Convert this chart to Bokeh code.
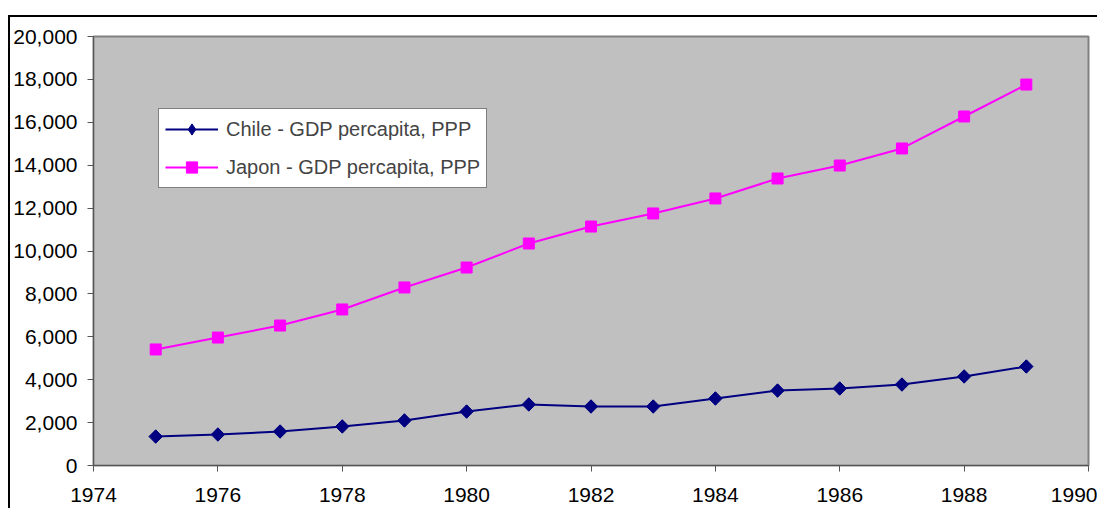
import math
from bokeh.plotting import figure
from bokeh.models import NumeralTickFormatter, FixedTicker, Legend, LegendItem
from bokeh.embed import file_html
from bokeh.resources import INLINE

years = [1975, 1976, 1977, 1978, 1979, 1980, 1981, 1982, 1983, 1984, 1985, 1986, 1987, 1988, 1989]
chile = [1350, 1445, 1585, 1820, 2100, 2515, 2845, 2750, 2750, 3125, 3495, 3590, 3775, 4150, 4615]
japon = [5410, 5965, 6525, 7275, 8300, 9230, 10350, 11140, 11750, 12450, 13380, 13985, 14780, 16270, 17760]
x_ticks = [1974, 1976, 1978, 1980, 1982, 1984, 1986, 1988, 1990]
y_ticks = [0, 2000, 4000, 6000, 8000, 10000, 12000, 14000, 16000, 18000, 20000]
labels = ["Chile - GDP percapita, PPP", "Japon - GDP percapita, PPP"]

FONT = "Liberation Sans"

p = figure(width=1089, height=493, x_range=(1974, 1990), y_range=(0, 20000),
           output_backend="svg", toolbar_location=None,
           min_border_left=83, min_border_right=11, min_border_top=19, min_border_bottom=45)
# outer chart-area border: only its left and top edges fall inside the window
p.styles = {"border-top": "2px solid black", "border-left": "2px solid black",
            "margin-top": "15px", "margin-left": "8px"}
p.background_fill_color = "#C0C0C0"
p.border_fill_color = "white"
p.outline_line_color = "#808080"
p.outline_line_width = 2
p.grid.visible = False

for ax in (p.xaxis[0], p.yaxis[0]):
    ax.axis_line_color = "#555555"
    ax.axis_line_width = 1
    ax.major_tick_line_color = "#555555"
    ax.major_tick_out = 6
    ax.major_tick_in = 0
    ax.minor_tick_line_color = None
    ax.major_label_text_font = FONT
    ax.major_label_text_font_size = "21px"
    ax.major_label_text_color = "black"

p.xaxis.ticker = FixedTicker(ticks=x_ticks)
p.yaxis.ticker = FixedTicker(ticks=y_ticks)
p.yaxis.formatter = NumeralTickFormatter(format="0,0")
p.xaxis.major_label_standoff = 16
p.yaxis.major_label_standoff = 10

l1 = p.line(years, chile, line_color="#000080", line_width=2)
# diamond used for the legend swatch (sits fully inside the rotated squares below)
m1_leg = p.scatter(years, chile, marker="diamond", size=13, fill_color="#000080", line_color="#000080")
m1 = p.scatter(years, chile, marker="square", angle=math.pi / 4, size=9.5,
               fill_color="#000080", line_color="#000080")
l2 = p.line(years, japon, line_color="#FF00FF", line_width=2)
m2 = p.scatter(years, japon, marker="square", size=11, fill_color="#FF00FF", line_color="#FF00FF")

legend = Legend(items=[LegendItem(label=labels[0], renderers=[l1, m1_leg]),
                       LegendItem(label=labels[1], renderers=[l2, m2])],
                location=(65, 277))
legend.border_line_color = "black"
legend.border_line_width = 1
legend.background_fill_color = "white"
legend.background_fill_alpha = 1
legend.label_text_font = FONT
legend.label_text_font_size = "20px"
legend.glyph_width = 53
legend.glyph_height = 28
legend.spacing = 10
legend.padding = 6
legend.margin = 0
legend.label_standoff = 8
p.add_layout(legend, "center")

open("out.html", "w").write(file_html(p, INLINE))
